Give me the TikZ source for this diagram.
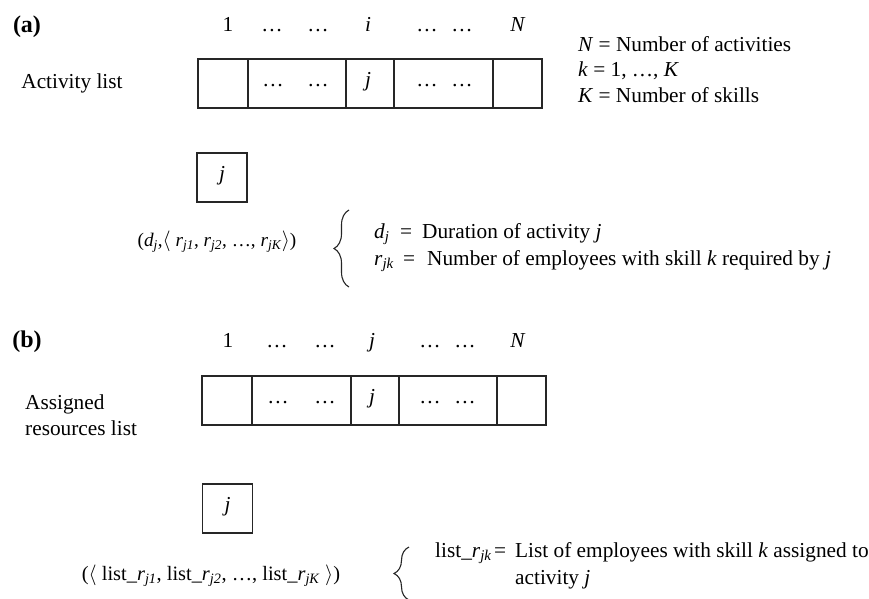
\documentclass[tikz,border=0pt]{standalone}
\usepackage{fontspec}
\setmainfont{Liberation Serif}
\usetikzlibrary{decorations.pathreplacing}
\newcommand{\vi}[1]{\textit{#1}}
\newcommand{\sbi}[1]{\textsubscript{\textit{#1}}}
\begin{document}
\begin{tikzpicture}[x=1pt,y=-1pt,
  font=\fontsize{21.3}{25.6}\selectfont,
  txt/.style={inner sep=0pt, anchor=base},
  txtl/.style={inner sep=0pt, anchor=base west},
  lab/.style={inner sep=0pt, anchor=base, font=\fontsize{24}{28}\selectfont\bfseries},
  cell/.style={draw=black!85, line width=1.2pt, minimum height=49pt, inner sep=0pt},
  jbox/.style={draw=black!85, line width=1.2pt, minimum width=50pt, minimum height=49pt, inner sep=0pt},
  brc/.style={draw=black!85, decorate, decoration={brace, amplitude=15pt}, line width=1.1pt}]
\useasboundingbox (0,0) rectangle (869,598);
\clip (0,0) rectangle (869,598);

% ---------------- (a) ----------------
\node[lab] (la) at (27,32) {(a)};
\node[txt] (ia1) at (228,31) {1};
\node[txt] (ia2) at (272,31) {…};
\node[txt] (ia3) at (318,31) {…};
\node[txt] (ia4) at (368,31) {\vi{i}};
\node[txt] (ia5) at (427,31) {…};
\node[txt] (ia6) at (462,31) {…};
\node[txt] (ia7) at (518,31) {\vi{N}};

\node[txt] (actl) at (72,88) {Activity list};

\node[cell, minimum width=50pt] (ca1) at (223,83.5) {};
\node[cell, minimum width=98pt] (ca2) at (297,83.5) {};
\node[cell, minimum width=48pt] (ca3) at (370,83.5) {};
\node[cell, minimum width=99pt] (ca4) at (443.5,83.5) {};
\node[cell, minimum width=49pt] (ca5) at (517.5,83.5) {};
\node[txt] (da1) at (273,86) {…};
\node[txt] (da2) at (318,86) {…};
\node[txt] (ja) at (368,86) {\vi{j}};
\node[txt] (da3) at (427,86) {…};
\node[txt] (da4) at (462,86) {…};

\node[txtl] (nl) at (578,51) {\vi{N} = Number of activities};
\node[txtl] (kl) at (578,76.5) {\vi{k} = 1, …, \vi{K}};
\node[txtl] (Kl) at (578,102) {\vi{K} = Number of skills};

\node[jbox] (jba) at (222,177.5) {};
\node[txt] (jta) at (222,180) {\vi{j}};

\node[txt, font=\fontsize{19.2}{23}\selectfont] (tupa) at (217,246) {(\vi{d}\sbi{j},$\langle$ \vi{r}\sbi{j1}, \vi{r}\sbi{j2}, …, \vi{r}\sbi{jK}$\rangle$)};

\coordinate (ba1) at (349,287);
\coordinate (ba2) at (349,210);
\draw[brc] (ba1) -- (ba2);

\node[txtl] (dj) at (374,238) {\vi{d}\sbi{j}};
\node[txt] (eq1) at (406,238) {=};
\node[txtl] (dur) at (422,238) {Duration of activity \vi{j}};
\node[txtl] (rjk) at (374,265) {\vi{r}\sbi{jk}};
\node[txt] (eq2) at (409,265) {=};
\node[txtl] (num) at (427,265) {Number of employees with skill \vi{k} required by \vi{j}};

% ---------------- (b) ----------------
\node[lab] (lb) at (27,347) {(b)};
\node[txt] (ib1) at (228,347) {1};
\node[txt] (ib2) at (277,347) {…};
\node[txt] (ib3) at (325,347) {…};
\node[txt] (ib4) at (372,347) {\vi{j}};
\node[txt] (ib5) at (430,347) {…};
\node[txt] (ib6) at (465,347) {…};
\node[txt] (ib7) at (518,347) {\vi{N}};

\node[txtl] (asg1) at (25,409) {Assigned};
\node[txtl] (asg2) at (25,435) {resources list};

\node[cell, minimum width=50pt] (cb1) at (227,400.5) {};
\node[cell, minimum width=99pt] (cb2) at (301.5,400.5) {};
\node[cell, minimum width=48pt] (cb3) at (375,400.5) {};
\node[cell, minimum width=98pt] (cb4) at (448,400.5) {};
\node[cell, minimum width=49pt] (cb5) at (521.5,400.5) {};
\node[txt] (db1) at (278,403) {…};
\node[txt] (db2) at (325,403) {…};
\node[txt] (jb) at (372,403) {\vi{j}};
\node[txt] (db3) at (430,403) {…};
\node[txt] (db4) at (465,403) {…};

\node[jbox] (jbb) at (227.5,508.5) {};
\node[txt] (jtb) at (227.5,511) {\vi{j}};

\node[txt, font=\fontsize{20.4}{24}\selectfont] (tupb) at (211,580) {($\langle$ list\_\vi{r}\sbi{j1}, list\_\vi{r}\sbi{j2}, …, list\_\vi{r}\sbi{jK} $\rangle$)};

\coordinate (bb1) at (409,600);
\coordinate (bb2) at (409,547);
\draw[brc] (bb1) -- (bb2);

\node[txtl] (lrjk) at (435,557) {list\_\vi{r}\sbi{jk}};
\node[txt] (eq3) at (500,557) {=};
\node[txtl] (lde1) at (515,557) {List of employees with skill \vi{k} assigned to};
\node[txtl] (lde2) at (515,584) {activity \vi{j}};
\end{tikzpicture}
\end{document}
